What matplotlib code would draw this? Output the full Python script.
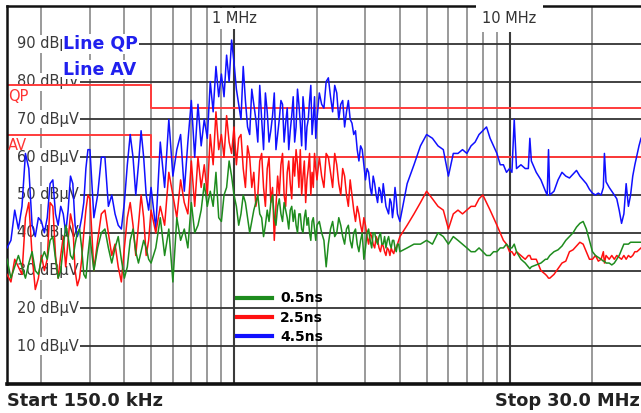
import matplotlib
matplotlib.use("Agg")
import matplotlib.pyplot as plt
from matplotlib.lines import Line2D
from matplotlib.ticker import NullLocator
from matplotlib.transforms import blended_transform_factory

plt.rcParams['font.family'] = ['DejaVu Sans']

# Conducted emission scan, line L, three rise times (frequency in MHz, level in dBuV)
freq_mhz = [
    0.150, 0.155, 0.160, 0.165, 0.170, 0.175, 0.180, 0.185, 0.190, 0.195,
    0.200, 0.205, 0.210, 0.215, 0.220, 0.225, 0.230, 0.235, 0.240, 0.245,
    0.250, 0.255, 0.260, 0.265, 0.270, 0.275, 0.280, 0.285, 0.290, 0.295, 0.300,
    0.31, 0.32, 0.33, 0.34, 0.35, 0.36, 0.37, 0.38, 0.39, 0.40,
    0.41, 0.42, 0.43, 0.44, 0.45, 0.46, 0.47, 0.48, 0.49, 0.50,
    0.52, 0.54, 0.56, 0.58, 0.60, 0.62, 0.64, 0.66, 0.68, 0.70, 0.72, 0.74,
    0.76, 0.78, 0.80, 0.82, 0.84, 0.86, 0.88, 0.90, 0.92, 0.94, 0.96, 0.98, 1.00,
    1.02, 1.04, 1.06, 1.08, 1.10, 1.12, 1.14, 1.16, 1.18, 1.20,
    1.22, 1.24, 1.26, 1.28, 1.30, 1.32, 1.34, 1.36, 1.38, 1.40,
    1.42, 1.44, 1.46, 1.48, 1.50, 1.52, 1.54, 1.56, 1.58, 1.60,
    1.62, 1.64, 1.66, 1.68, 1.70, 1.72, 1.74, 1.76, 1.78, 1.80,
    1.82, 1.84, 1.86, 1.88, 1.90, 1.92, 1.94, 1.96, 1.98, 2.00,
    2.04, 2.08, 2.12, 2.16, 2.20, 2.24, 2.28, 2.32, 2.36, 2.40,
    2.44, 2.48, 2.52, 2.56, 2.60, 2.64, 2.68, 2.72, 2.76, 2.80,
    2.84, 2.88, 2.92, 2.96, 3.00, 3.04, 3.08, 3.12, 3.16, 3.20,
    3.24, 3.28, 3.32, 3.36, 3.40, 3.44, 3.48, 3.52, 3.56, 3.60,
    3.64, 3.68, 3.72, 3.76, 3.80, 3.84, 3.88, 3.92, 3.96, 4.00,
    4.25, 4.50, 4.75, 5.00, 5.25, 5.50, 5.75, 6.00, 6.25, 6.50, 6.75, 7.00,
    7.25, 7.50, 7.75, 8.00, 8.25, 8.50, 8.75, 9.00, 9.25, 9.50, 9.75, 10.0,
    10.2, 10.4, 10.6, 11.0, 11.4, 11.7, 11.85, 12.0, 12.5, 13.0,
    13.5, 13.7, 13.85, 14.0, 14.5, 15.0, 15.5, 16.0, 16.5, 17.0,
    17.5, 18.0, 18.5, 19.0, 19.5, 20.0, 20.5, 21.0, 21.5, 21.9,
    22.1, 22.4, 23.0, 23.5, 24.0, 24.5, 25.0, 25.5, 26.0, 26.5,
    27.0, 27.5, 28.0, 28.5, 29.0, 29.5, 30.0,
]

level_05ns = [
    33, 28, 31, 34, 31, 28, 32, 35, 30, 29, 33, 35, 33, 38, 39, 33, 28, 30, 36, 42,
    39, 34, 33, 37, 40, 41, 36, 29, 28, 34, 39,
    30, 36, 40, 41, 36, 32, 36, 39, 33, 28, 31, 38, 41, 35, 32, 35, 38, 36, 33, 32,
    36, 44, 34, 41, 27, 44, 38, 41, 36, 48, 40, 42, 46, 53, 47, 51, 47, 56, 44, 43,
    50, 52, 59, 55, 50,
    47, 42, 45, 50, 48, 44, 40, 43, 46, 48, 50, 45, 44, 39, 42, 46, 43, 48, 50, 44,
    42, 47, 49, 45, 43, 48, 46, 44, 41, 46, 47, 43, 46, 42, 40, 45, 45, 41, 40, 44,
    46, 42, 44, 40, 38, 43, 44, 41, 38, 42,
    43, 40, 38, 31, 37, 41, 43, 39, 40, 44, 42, 39, 37, 41, 42, 38, 36, 40, 41, 37,
    35, 38, 40, 33, 36, 40, 41, 38, 36, 40, 40, 38, 37, 39, 40, 37, 37, 39, 36, 38,
    39, 37, 36, 38, 38, 36, 35, 37, 37, 35,
    36, 37, 37, 38, 37, 40, 39, 37, 39, 38, 37, 36, 35, 35, 36, 35, 34, 34, 35, 35,
    36, 36, 37, 36,
    36, 37, 35, 33, 32, 31, 30.5, 31, 31.5, 32, 33, 33, 33.5, 34, 35, 35.5, 36.5, 38,
    39, 40, 41.5, 42.5, 43, 41, 38, 35, 34, 33.5, 33, 32.5, 32.5, 32, 32, 31.5, 32,
    33, 34, 35.5, 37, 37, 37, 37.5, 37.5, 37.5, 37.5, 37.5, 37.5,
]

level_25ns = [
    29, 27, 33, 31, 29, 44, 48, 34, 25, 28, 34, 30, 33, 48, 47, 34, 28, 34, 39, 31,
    38, 45, 42, 30, 26, 28, 33, 40, 46, 50, 49,
    30, 38, 45, 46, 40, 34, 37, 31, 27, 36, 44, 48, 42, 34, 42, 50, 44, 34, 38, 46,
    40, 47, 42, 56, 50, 44, 54, 48, 45, 59, 47, 60, 52, 58, 50, 66, 58, 72, 62, 66,
    60, 71, 64, 61, 68,
    58, 65, 66, 57, 52, 63, 60, 52, 56, 47, 50, 59, 61, 52, 47, 57, 60, 48, 52, 38,
    47, 55, 50, 58, 61, 50, 47, 56, 59, 53, 49, 60, 55, 62, 58, 52, 62, 50, 55, 59,
    48, 54, 57, 61, 50, 56, 52, 61, 57, 54,
    60, 55, 52, 61, 60, 56, 52, 61, 58, 53, 50, 57, 55, 50, 47, 54, 50, 46, 43, 47,
    45, 42, 40, 44, 42, 39, 37, 40, 39, 37, 36, 39, 38, 36, 35, 37, 36.5, 35, 34, 36,
    35.5, 34, 36, 35, 34.5, 36, 36, 37, 38, 39,
    42, 45, 48, 51, 49, 47, 46, 41, 45, 46, 45, 46, 47, 47, 49, 50, 48, 46, 44, 42,
    40, 38, 37, 35,
    35, 34, 35, 34, 33, 34, 34, 33, 33, 30, 29, 28.5, 28, 28, 29, 30.5, 32, 32.5,
    35, 35.5, 36.5, 37.5, 37, 35, 33, 33, 34, 32.5, 33, 35, 32, 34, 33, 34, 33,
    34, 33.5, 33, 34, 33, 34, 33.5, 34, 35, 35, 35.5, 36,
]

level_45ns = [
    36, 38, 46, 41, 47, 61, 57, 42, 39, 44, 43, 40, 44, 53, 54, 45, 42, 47, 45, 40,
    46, 55, 53, 42, 39, 41, 44, 48, 57, 62, 62,
    44, 50, 60, 60, 47, 50, 45, 42, 41, 48, 58, 66, 60, 50, 58, 67, 60, 50, 46, 52,
    41, 64, 52, 70, 55, 62, 66, 51, 64, 75, 60, 74, 63, 70, 65, 80, 72, 84, 76, 82,
    76, 87, 80, 91, 85,
    78, 74, 70, 84, 75, 68, 66, 78, 74, 70, 64, 79, 70, 62, 77, 72, 64, 67, 71, 77,
    62, 66, 70, 75, 74, 64, 69, 73, 62, 67, 71, 76, 64, 68, 78, 74, 69, 63, 76, 72,
    62, 68, 70, 75, 79, 66, 70, 76, 65, 70,
    77, 74, 73, 80, 81, 76, 72, 79, 77, 70, 74, 75, 68, 72, 75, 70, 69, 66, 67, 62,
    59, 63, 62, 58, 54, 57, 56, 52, 50, 55, 53, 50, 48, 52, 51, 48, 53, 50, 47, 46,
    45, 49, 48, 44, 47, 52, 49, 45, 44, 43,
    53, 58, 63, 66, 65, 63, 62, 55, 61, 61, 62, 61, 63, 64, 66, 67, 68, 65, 63, 61,
    58, 58, 56, 57,
    56, 70, 57, 58, 57, 57, 65, 59, 56, 54, 51, 50, 62, 50, 51, 54, 56, 55, 54.5,
    55.5, 56.5, 55, 54, 53, 51.5, 50.5, 50, 50.5, 50, 52, 61, 53.5, 52, 51, 50,
    49, 46, 42.5, 45, 53, 47, 50, 55, 58, 60.5, 63, 65,
]

series_labels = ["0.5ns", "2.5ns", "4.5ns"]
series_colors = ["#1e8c1e", "#ff1010", "#1010ff"]

# Class A limit lines
limit_freq = [0.15, 0.5, 0.5, 30.0]
limit_qp = [79, 79, 73, 73]
limit_av = [66, 66, 60, 60]

y_ticks = [10, 20, 30, 40, 50, 60, 70, 80, 90]
y_tick_labels = ["%d dBµV" % v for v in y_ticks]
minor_freqs = [0.2, 0.3, 0.4, 0.5, 0.6, 0.7, 0.8, 0.9,
               2, 3, 4, 5, 6, 7, 8, 9, 20]
major_freqs = [1, 10]
major_labels = ["1 MHz", "10 MHz"]

W, H = 641, 413
fig = plt.figure(figsize=(W / 100, H / 100), dpi=100)
ax = fig.add_axes([7 / W, 29 / H, 634 / W, 378 / H])
ax.set_xscale('log')
ax.set_xlim(0.15, 30)
ax.set_ylim(0, 100)
ax.xaxis.set_major_locator(NullLocator())
ax.xaxis.set_minor_locator(NullLocator())
ax.yaxis.set_major_locator(NullLocator())

for side in ('left', 'top'):
    ax.spines[side].set_linewidth(1.8)
    ax.spines[side].set_color('#111111')
ax.spines['bottom'].set_linewidth(2.6)
ax.spines['bottom'].set_color('#111111')
ax.spines['right'].set_visible(False)

# grid
for f in minor_freqs:
    ax.axvline(f, color='#9a9a9a', lw=1.4, zorder=1)
for f in major_freqs:
    ax.axvline(f, color='#3a3a3a', lw=1.5, zorder=1)
label_end = 73 / 634
for v in y_ticks:
    ax.axhline(v, xmin=label_end, xmax=1, color='#333333', lw=1.3, zorder=1.2)

ytrans = ax.get_yaxis_transform()
for v, lab in zip(y_ticks, y_tick_labels):
    ax.text(label_end - 0.002, v, lab, transform=ytrans, ha='right', va='center',
            fontsize=10.5, color='#3a3a3a', zorder=2,
            bbox=dict(boxstyle='square,pad=0.1', fc='white', ec='none'))

xtrans = blended_transform_factory(ax.transData, ax.transAxes)
ax.text(major_freqs[0], 0.968, major_labels[0], transform=xtrans, ha='center',
        va='center', fontsize=10.5, color='#333333', zorder=3,
        bbox=dict(boxstyle='square,pad=0.2', fc='white', ec='none'))
ax.text(major_freqs[1], 0.968, major_labels[1], transform=xtrans, ha='center',
        va='center', fontsize=10.5, color='#333333', zorder=3,
        bbox=dict(boxstyle='square,pad=0.45', fc='white', ec='none'))

# limit lines
ax.plot(limit_freq, limit_qp, color='#ff3b3b', lw=1.4, zorder=2.5)
ax.plot(limit_freq, limit_av, color='#ff3b3b', lw=1.4, zorder=2.5)
ax.text(0.002, 76, "QP", transform=ytrans, ha='left', va='center',
        fontsize=10.5, color='#ff3333', zorder=2.6)
ax.text(0.002, 63, "AV", transform=ytrans, ha='left', va='center',
        fontsize=10.5, color='#ff3333', zorder=2.6)

# traces
lines = {}
for lab, col, lev, z in zip(series_labels[::-1], series_colors[::-1],
                            [level_45ns, level_25ns, level_05ns], [3.0, 3.1, 3.2]):
    lines[lab], = ax.plot(freq_mhz, lev, color=col, lw=1.1, zorder=z)

ax.text(56 / 634, 90, "Line QP", transform=ytrans, ha='left', va='center',
        fontsize=12.5, fontweight='bold', color='#2020ee', zorder=4,
        bbox=dict(boxstyle='square,pad=0.05', fc='white', ec='none'))
ax.text(56 / 634, 83.2, "Line AV", transform=ytrans, ha='left', va='center',
        fontsize=12.5, fontweight='bold', color='#2020ee', zorder=4,
        bbox=dict(boxstyle='square,pad=0.05', fc='white', ec='none'))

handles = [Line2D([], [], color=c, lw=3) for c in series_colors]
leg = ax.legend(handles, series_labels, loc='upper left',
                bbox_to_anchor=(230 / 634, 0.245), frameon=False,
                prop={'weight': 'bold', 'size': 10}, handlelength=2.5,
                handletextpad=0.6, labelspacing=0.38, borderpad=0,
                borderaxespad=0)
leg.set_zorder(5)

fig.text(7 / W, 1 - 401 / H, "Start 150.0 kHz", ha='left', va='center',
         fontsize=12.8, fontweight='bold', color='#222222')
fig.text(640 / W, 1 - 401 / H, "Stop 30.0 MHz", ha='right', va='center',
         fontsize=12.8, fontweight='bold', color='#222222')

fig.savefig("out.png", dpi=100, facecolor='white')
